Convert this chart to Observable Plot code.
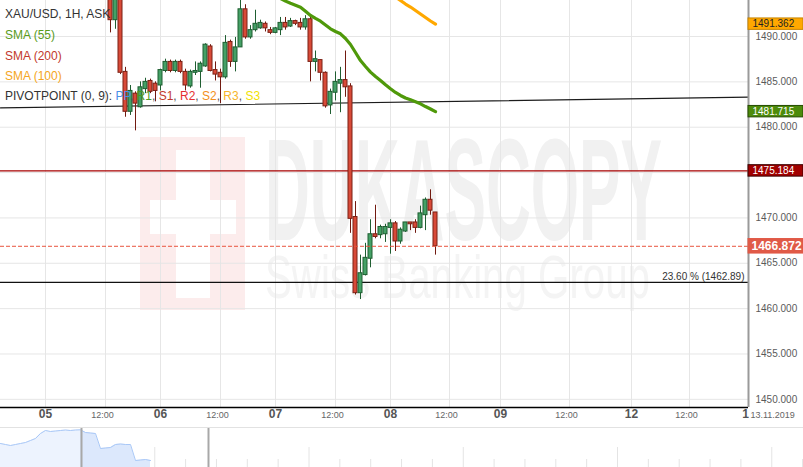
<!DOCTYPE html>
<html>
<head>
<meta charset="utf-8">
<script src="https://cdn.jsdelivr.net/npm/d3@7"></script>
<script src="https://cdn.jsdelivr.net/npm/@observablehq/plot@0.6"></script>
<style>
  body { margin: 0; background: #fff; }
  #wrap { position: relative; width: 803px; height: 467px; overflow: hidden; font-family: "Liberation Sans", Arial, sans-serif; }
  #main, #nav { position: absolute; left: 0; }
  #main { top: 0; }
  #nav { top: 427px; border-top: 1px solid #e2e2e2; }
  .lg { position: absolute; left: 5px; font-size: 12px; line-height: 14px; white-space: nowrap; }
</style>
</head>
<body>
<div id="wrap">
  <div id="main"></div>
  <div id="nav"></div>
  <div id="legend"></div>
</div>
<script>
// ---------------- data ----------------
const instrument = "XAU/USD, 1H, ASK";
const firstBar = 13; // bar index counted in hours from 05 00:00 (23 bars per trading day)
const opens  = [1495.5,1491.8,1494.6,1486.1,1481.7,1483.7,1482.2,1484.2,1485.1,1484.8,1484.6,1486.2,1487.2,1486.2,1487.2,1486.1,1484.5,1486.0,1486.1,1486.7,1488.9,1486.3,1486.0,1485.5,1489.4,1487.2,1488.8,1493.0,1489.9,1490.7,1490.9,1491.4,1490.7,1490.4,1490.7,1491.5,1491.1,1491.7,1491.5,1491.0,1491.9,1487.2,1487.4,1486.0,1482.4,1483.8,1484.8,1485.2,1484.5,1470.1,1461.7,1463.7,1465.5,1468.2,1468.1,1468.2,1468.9,1469.4,1467.4,1468.5,1469.5,1469.5,1468.9,1470.3,1472.0,1470.6];
const highs  = [1496.0,1495.0,1495.2,1486.6,1484.6,1483.9,1485.0,1485.4,1485.3,1485.0,1486.4,1487.5,1487.4,1487.4,1487.4,1486.4,1486.3,1487.2,1487.2,1489.2,1489.1,1487.2,1486.4,1490.1,1489.6,1489.9,1494.3,1493.5,1491.2,1492.9,1491.8,1491.6,1491.0,1491.0,1492.1,1492.1,1492.0,1491.8,1492.0,1492.3,1492.3,1488.4,1487.4,1486.1,1484.2,1486.1,1486.6,1488.4,1484.8,1471.8,1465.9,1467.2,1469.8,1471.4,1469.2,1469.3,1469.8,1469.6,1468.9,1469.5,1469.5,1469.8,1471.3,1472.2,1473.1,1470.6];
const lows   = [1490.4,1490.8,1485.8,1481.1,1481.3,1479.6,1482.1,1483.7,1483.7,1482.8,1484.0,1486.0,1486.0,1486.0,1485.9,1484.0,1484.3,1485.7,1484.3,1486.6,1486.1,1485.1,1482.6,1485.3,1486.6,1486.1,1488.8,1489.7,1489.7,1490.5,1490.8,1490.5,1490.2,1490.3,1490.1,1490.7,1491.0,1491.2,1490.7,1490.7,1485.0,1486.1,1485.1,1482.1,1481.4,1482.9,1481.6,1483.3,1468.3,1461.5,1461.0,1463.6,1464.5,1467.7,1467.7,1467.3,1466.0,1466.3,1467.1,1468.4,1468.6,1468.3,1468.8,1468.6,1470.3,1465.9];
const closes = [1491.8,1494.6,1486.0,1481.7,1484.0,1482.6,1484.4,1485.0,1483.9,1484.0,1486.3,1487.2,1486.2,1487.2,1486.1,1484.6,1486.1,1486.2,1487.0,1489.1,1486.2,1485.8,1485.5,1489.3,1487.2,1488.8,1493.0,1489.9,1490.7,1491.4,1491.5,1490.9,1490.4,1490.9,1491.5,1491.0,1491.7,1491.4,1491.0,1491.9,1487.2,1487.5,1486.0,1482.3,1483.9,1485.0,1485.2,1484.4,1469.9,1461.7,1463.9,1465.6,1468.2,1467.9,1469.0,1469.0,1469.4,1467.4,1468.7,1469.5,1469.3,1468.9,1470.5,1472.0,1470.8,1466.872];

const sma55Start = 46;
const sma55 = [1494.6,1494.19,1493.9,1493.66,1493.45,1493.23,1492.78,1492.32,1491.99,1491.69,1491.27,1490.85,1490.55,1490.3,1489.78,1489.12,1488.24,1487.35,1486.69,1486.07,1485.59,1485.15,1484.68,1484.24,1483.83,1483.5,1483.22,1483.02,1482.8,1482.58,1482.28,1482.01,1481.715];
const sma100Start = 70;
const sma100 = [1494.36,1493.97,1493.58,1493.25,1492.87,1492.48,1492.1,1491.71,1491.362];

const pivotBars = [-9, 140.6];
const pivotValues = [1482.13, 1483.31];
const resistanceLevel = 1475.184;
const lastPrice = 1466.872;
const fibLevel = 1462.89;
const fibLabel = "23.60 % (1462.89)";

const tagValues = [1491.362, 1481.715, 1475.184, 1466.872];
const tagTexts  = ["1491.362", "1481.715", "1475.184", "1466.872"];

const yTicks = [1450, 1455, 1460, 1465, 1470, 1475, 1480, 1485, 1490];
const yTickLabels = ["1450.000", "1455.000", "1460.000", "1465.000", "1470.000", "", "1480.000", "1485.000", "1490.000"]; // 1475 hidden under its price tag
const dayTicks  = [0, 23, 46, 69, 91, 117.2, 140];
const dayLabels = ["05", "06", "07", "08", "09", "12", "1"];
const noonTicks = [12, 35, 58, 80.8, 104.8, 128.8];
const noonLabel = "12:00";
const dateLabel = "13.11.2019";

// navigator (overview) series, relative level
const navValues = [24,23,22,23,24,25,27,29,34,37,36,36.5,37,37.5,37,37.5,37.7,35,34.5,34,19,19.5,20,23,23.5,23,23,7,7.5,8,7];
const navWindow = [16.2, 41.6];

// ---------------- build ----------------
const xDomain = [-9, 140.6];
const yDomain = [1449.1, 1493.97];
const candles = opens.map((o, k) => ({bar: firstBar + k, open: o, high: highs[k], low: lows[k], close: closes[k]}));
const up = d => d.close >= d.open;
const s55 = sma55.map((v, k) => ({bar: sma55Start + k, v}));
const s100 = sma100.map((v, k) => ({bar: sma100Start + k, v}));
const pivot = pivotBars.map((b, k) => ({bar: b, v: pivotValues[k]}));
const tags = tagValues.map((v, k) => ({v, text: tagTexts[k], k}));
const yLab = yTicks.map((v, k) => ({v, t: yTickLabels[k]})).filter(d => d.t);
const tagFill   = ["#ffa800", "#4d8b0b", "#a10000", "#e05a47"];
const tagStroke = ["#c78400", "#244a00", "#3a0000", "#e05a47"];
const tagColor  = ["#222", "#fff", "#fff", "#fff"];
const tagHalf   = [0.63, 0.63, 0.63, 0.8];

const font = "Liberation Sans, Arial, sans-serif";
const main = Plot.plot({
  width: 803, height: 427,
  marginTop: 0, marginLeft: 0, marginRight: 55, marginBottom: 20,
  x: {domain: xDomain, axis: null},
  y: {domain: yDomain, axis: null},
  style: {fontFamily: font, background: "transparent", overflow: "visible"},
  marks: [
    Plot.ruleX([...dayTicks.slice(0, 6), ...noonTicks], {stroke: "#e6e6e6"}),
    Plot.ruleY(yTicks, {stroke: "#e6e6e6"}),
    Plot.ruleY([resistanceLevel], {stroke: "#a60000", strokeWidth: 1.3}),
    Plot.ruleY([fibLevel], {stroke: "#111", strokeWidth: 1.2}),
    Plot.line(pivot, {x: "bar", y: "v", stroke: "#1c1c1c", strokeWidth: 1.2}),
    Plot.ruleX(candles, {x: "bar", y1: "low", y2: "high", stroke: d => up(d) ? "#1f5e31" : "#721a10", clip: true}),
    Plot.rect(candles, {x1: d => d.bar - 0.4, x2: d => d.bar + 0.4, y1: "open", y2: "close",
      fill: d => up(d) ? "#45a066" : "#d84a38", stroke: d => up(d) ? "#1f5e31" : "#7a2014", strokeWidth: 1, clip: true}),
    Plot.line(s55, {x: "bar", y: "v", stroke: "#4f990a", strokeWidth: 3.2, clip: true}),
    Plot.line(s100, {x: "bar", y: "v", stroke: "#ffa800", strokeWidth: 3.2, clip: true}),
    Plot.ruleY([lastPrice], {stroke: "#e8553f", strokeDasharray: "4,2"}),
    Plot.text([fibLevel], {x: xDomain[1], y: d => d, dx: -4, dy: -6, textAnchor: "end", text: () => fibLabel, fontSize: 10, fill: "#333"}),
    Plot.ruleY([yDomain[0]], {stroke: "#000", strokeWidth: 1.6}),
    Plot.ruleX([xDomain[1]], {stroke: "#9a9a9a", strokeWidth: 2}),
    Plot.text(yLab, {x: xDomain[1], y: "v", dx: 7, textAnchor: "start", text: "t", fontSize: 10, fill: "#5a5a5a"}),
    Plot.rect(tags, {x1: xDomain[1], x2: xDomain[1] + 11, y1: d => d.v - tagHalf[d.k], y2: d => d.v + tagHalf[d.k],
      fill: d => tagFill[d.k], stroke: d => tagStroke[d.k]}),
    Plot.text(tags.filter(d => d.k < 3), {x: xDomain[1], y: "v", dx: 4, textAnchor: "start", text: "text",
      fill: d => tagColor[d.k], fontWeight: d => d.k === 0 ? "normal" : "bold", fontSize: 10}),
    Plot.text(tags.filter(d => d.k === 3), {x: xDomain[1], y: "v", dx: 3, textAnchor: "start", text: "text",
      fill: "#fff", fontWeight: "bold", fontSize: 12}),
    Plot.text(dayTicks, {x: d => d, frameAnchor: "bottom", dy: 10, text: (d, i) => dayLabels[i], fontSize: 12, fontWeight: "bold", fill: "#555"}),
    Plot.text(noonTicks, {x: d => d, frameAnchor: "bottom", dy: 10, dx: -3, text: () => noonLabel, fontSize: 9, fill: "#666"}),
    Plot.text([dayTicks[6]], {x: d => d, frameAnchor: "bottom", dy: 10, dx: 5, textAnchor: "start", text: () => dateLabel, fontSize: 9, fill: "#666"})
  ]
});
document.getElementById("main").appendChild(main);

// faint watermark behind everything
const svg = d3.select(main);
const wm = svg.insert("g", "g").attr("text-anchor", "start").attr("pointer-events", "none");
wm.append("rect").attr("x", 140).attr("y", 137).attr("width", 105).attr("height", 173).attr("fill", "#fcecec");
wm.append("rect").attr("x", 176).attr("y", 150).attr("width", 34).attr("height", 148).attr("fill", "#fff");
wm.append("rect").attr("x", 150).attr("y", 200).attr("width", 86).attr("height", 34).attr("fill", "#fff");
wm.append("text").text("DUKASCOPY").attr("x", 265).attr("y", 240).attr("text-anchor", "start")
  .attr("font-family", "'Liberation Sans Narrow','Liberation Sans',sans-serif")
  .attr("font-weight", "bold").attr("font-size", 144).attr("fill", "#f1f1f1")
  .attr("textLength", 397).attr("lengthAdjust", "spacingAndGlyphs");
wm.append("text").text("Swiss Banking Group").attr("x", 265).attr("y", 298).attr("text-anchor", "start")
  .attr("font-family", "'Liberation Sans',sans-serif").attr("font-size", 62).attr("fill", "#f4f4f4")
  .attr("textLength", 385).attr("lengthAdjust", "spacingAndGlyphs");

// navigator
const navData = navValues.map((v, i) => ({i, v}));
const navTicks = d3.range(1, 27).map(k => k * 6.17);
const nav = Plot.plot({
  width: 803, height: 39,
  margin: 0,
  x: {domain: [0, 160.6], axis: null},
  y: {domain: [0, 39], axis: null},
  style: {background: "transparent"},
  marks: [
    Plot.ruleX(navTicks, {y1: 0, y2: (d, k) => (k + 1) % 5 === 0 ? 20 : 8, stroke: "#e4e4e4"}),
    Plot.areaY(navData.filter(d => d.i <= navWindow[0]), {x: "i", y: "v", fill: "#edf3fe"}),
    Plot.areaY(navData.filter(d => d.i >= 16), {x: "i", y: "v", fill: "#dce8fc"}),
    Plot.lineY(navData, {x: "i", y: "v", stroke: "#a9c8f7", strokeWidth: 1}),
    Plot.ruleX(navWindow, {stroke: "#a8a8a8", strokeWidth: 2})
  ]
});
document.getElementById("nav").appendChild(nav);

// legend overlay
const lg = document.getElementById("legend");
const rows = [
  {top: 7, parts: [[instrument, "#333"]]},
  {top: 28, parts: [["SMA (55)", "#5a9c1c"]]},
  {top: 49, parts: [["SMA (200)", "#c23a2c"]]},
  {top: 69, parts: [["SMA (100)", "#f5a623"]]},
  {top: 89, parts: [["PIVOTPOINT (0, 9): ", "#333"], ["PP", "#4a8fe8"], [", ", "#555"], ["R1", "#4e9a1e"], [", ", "#555"],
    ["S1", "#c23a2c"], [", ", "#555"], ["R2", "#e53131"], [", ", "#555"], ["S2", "#f39020"], [", ", "#555"],
    ["R3", "#f7b52a"], [", ", "#555"], ["S3", "#f2e200"]]}
];
rows.forEach(r => {
  const div = document.createElement("div");
  div.className = "lg";
  div.style.top = r.top + "px";
  r.parts.forEach(([t, c]) => {
    const s = document.createElement("span");
    s.textContent = t; s.style.color = c;
    div.appendChild(s);
  });
  lg.appendChild(div);
});
</script>
</body>
</html>
